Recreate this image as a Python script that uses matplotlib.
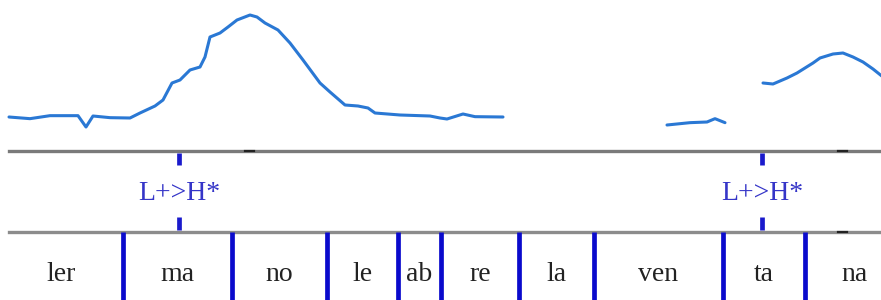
import numpy as np
import matplotlib.pyplot as plt

# pitch track (time in ms, f0 in Hz), three voiced stretches
seg1_t = [18, 60, 100, 156, 172, 186, 220, 260, 280, 310, 326, 344, 360, 380, 400, 410, 420,
          440, 456, 474, 500, 514, 530, 556, 580, 606, 640, 660, 690, 716, 736, 750, 800, 860,
          880, 894, 926, 950, 1006]
seg1_f0 = [129.5, 127, 131.5, 131.5, 114.5, 131, 128.5, 128, 135.5, 146, 155, 180.5, 185, 200,
           204.5, 219.5, 249.5, 255.5, 264.5, 275, 282.5, 279.5, 270.5, 260, 240.5, 215, 180.5,
           167, 147.5, 146, 143, 135.5, 132.5, 131, 128, 126.5, 134, 130, 129.5]
seg2_t = [1334, 1380, 1414, 1430, 1450]
seg2_f0 = [117.5, 121, 122, 127, 121]
seg3_t = [1526, 1546, 1574, 1594, 1610, 1626, 1640, 1666, 1686, 1706, 1726, 1746, 1766]
seg3_f0 = [180.5, 179, 188, 195.5, 203, 210.5, 218, 224, 225.5, 219.5, 212, 201.5, 189.5]

# tone tier
tone_times = [358, 1524]
tone_labels = ["L+>H*", "L+>H*"]

# syllable tier
syl_edges = [0, 246, 464, 654, 796, 882, 1038, 1188, 1446, 1610, 1810]
syl_labels = ["ler", "ma", "no", "le", "ab", "re", "la", "ven", "ta", "na"]

tier_marks = [498, 1684]

t_max = 1762
serif = "Liberation Serif"

fig = plt.figure(figsize=(8.81, 3.0), dpi=100)
ax_f0 = fig.add_axes([0, 149 / 300, 1, 151 / 300])
ax_tone = fig.add_axes([0, 68 / 300, 1, 81 / 300])
ax_syl = fig.add_axes([0, 0, 1, 68 / 300])

for ax in (ax_f0, ax_tone, ax_syl):
    ax.set_xlim(0, t_max)
    ax.axis("off")

ax_f0.set_ylim(78.5, 305)
for t, f in [(seg1_t, seg1_f0), (seg2_t, seg2_f0), (seg3_t, seg3_f0)]:
    ax_f0.plot(t, f, color="#2a78d4", lw=2.2, solid_joinstyle="round", solid_capstyle="round")

# tier separators
ax_tone.set_ylim(0, 1)
start = 9 / 881
ax_tone.axhline(1, xmin=start, xmax=1, color="#7a7a7a", lw=2.4, clip_on=False)
ax_tone.axhline(0, xmin=start, xmax=1, color="#8c8c8c", lw=2.4, clip_on=False)
ax_tone.plot([tier_marks[0] - 9, tier_marks[0] + 9], [1, 1], color="#222222", lw=1.6, clip_on=False)
ax_tone.plot([tier_marks[1] - 9, tier_marks[1] + 9], [1, 1], color="#222222", lw=1.6, clip_on=False)
ax_tone.plot([tier_marks[1] - 9, tier_marks[1] + 9], [0, 0], color="#222222", lw=1.6, clip_on=False)

for t, lab in zip(tone_times, tone_labels):
    ax_tone.vlines(t, 0.83, 0.975, color="#1a1acc", lw=3.4)
    ax_tone.vlines(t, 0.025, 0.18, color="#1a1acc", lw=3.4)
    ax_tone.text(t, 0.48, lab, ha="center", va="center", fontsize=20,
                 family=serif, color="#3535c8")

ax_syl.set_ylim(0, 1)
ax_syl.vlines(syl_edges[1:-1], 0, 1, color="#0a0acc", lw=3.4)
mids = (np.array(syl_edges[:-1]) + np.array(syl_edges[1:])) / 2
for m, lab in zip(mids, syl_labels):
    ax_syl.text(m, 0.38, lab, ha="center", va="center", fontsize=20,
                family=serif, color="#222222")

fig.savefig("out.png", dpi=100)
